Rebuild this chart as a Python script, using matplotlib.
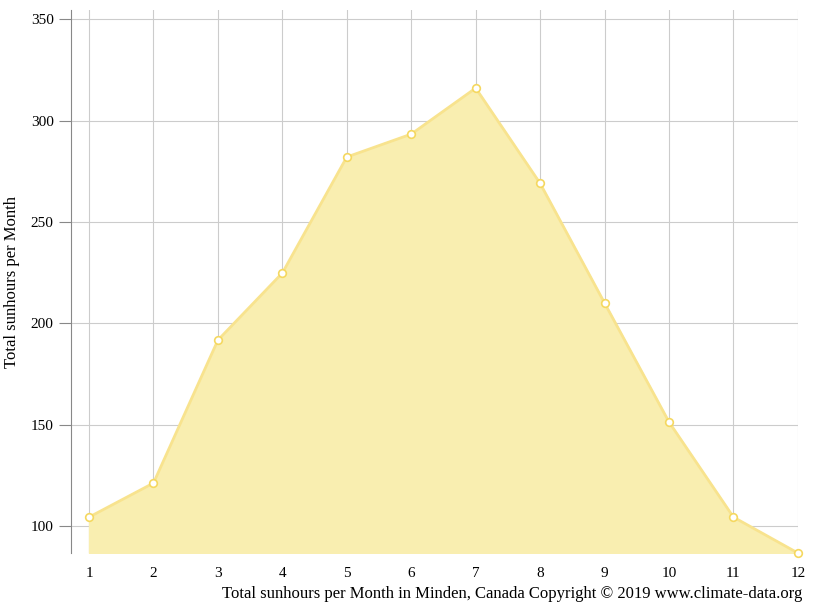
import matplotlib
matplotlib.use("Agg")
import matplotlib.pyplot as plt

months = [1, 2, 3, 4, 5, 6, 7, 8, 9, 10, 11, 12]
sunhours = [104.4, 121.2, 191.7, 224.8, 282.0, 293.3, 316.0, 269.0, 210.0, 151.3, 104.4, 86.7]
yticks = [100, 150, 200, 250, 300, 350]

plt.rcParams['font.family'] = ['Liberation Serif', 'DejaVu Serif']
fig = plt.figure(figsize=(8.15, 6.11), dpi=100)
ax = fig.add_axes([0.0871, 0.0949, 0.8919, 0.8887])
ymin = 86.7
ax.fill_between(months, sunhours, ymin, color='#f9eeb0', zorder=2)
ax.plot(months, sunhours, color='#f8e38e', lw=2, zorder=3)
ax.plot(months, sunhours, 'o', ms=5.5, mfc='white', mec='#f5d860', mew=1.2, zorder=4, clip_on=False)
ax.set_xlim(0.72, 12)
ax.set_ylim(ymin, 354.5)
ax.set_xticks(months)
ax.set_yticks(yticks)
ax.grid(True, color='#cccccc', lw=0.8, zorder=0)
for s in ['top', 'right', 'bottom']:
    ax.spines[s].set_visible(False)
ax.spines['left'].set_color('#888888')
ax.tick_params(axis='y', length=9, color='#888888', labelsize=11)
ax.tick_params(axis='x', length=0, labelsize=11, pad=10)
ax.set_ylabel('Total sunhours per Month', fontsize=12, labelpad=8)
fig.text(0.984, 0.015, 'Total sunhours per Month in Minden, Canada Copyright © 2019 www.climate-data.org',
         ha='right', va='bottom', fontsize=12)
fig.savefig('out.png')
